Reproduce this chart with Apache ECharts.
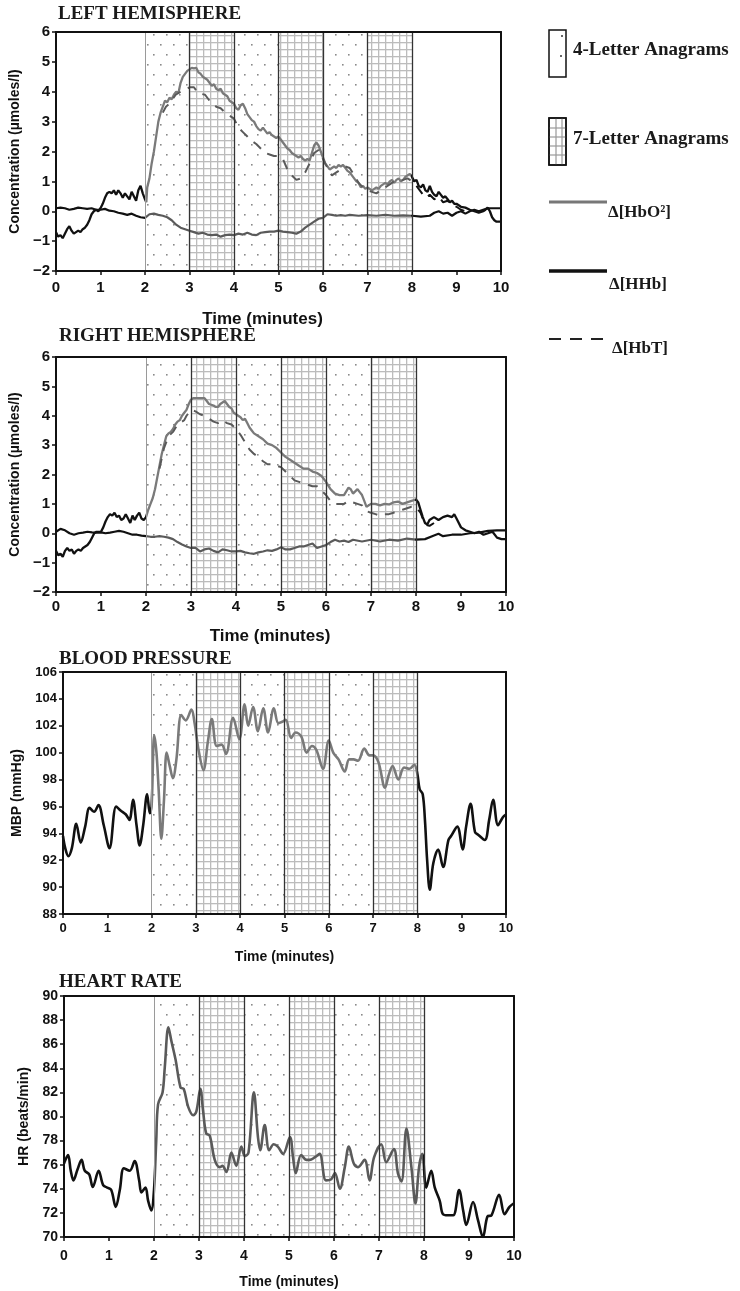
<!DOCTYPE html>
<html><head><meta charset="utf-8">
<script src="https://cdn.jsdelivr.net/npm/echarts@6/dist/echarts.min.js"></script>
<style>html,body{margin:0;padding:0;background:#fff}#c{width:740px;height:1291px}</style>
</head><body><div id="c"></div>
<script>
// ---------------- DATA ----------------
const panelTitles = ['LEFT HEMISPHERE', 'RIGHT HEMISPHERE', 'BLOOD PRESSURE', 'HEART RATE'];
const yAxisNames = ['Concentration (µmoles/l)', 'Concentration (µmoles/l)', 'MBP (mmHg)', 'HR (beats/min)'];
const xAxisName = 'Time (minutes)';
const yRanges = [[-2, 6, 1], [-2, 6, 1], [88, 106, 2], [70, 90, 2]];
const xRange = [0, 10, 1];
const fourLetterBands = [[2, 3], [4, 5], [6, 7]];
const sevenLetterBands = [[3, 4], [5, 6], [7, 8]];
const bandEdges = [2, 3, 4, 5, 6, 7, 8];
const legendLabels = ['4-Letter Anagrams', '7-Letter Anagrams', 'Δ[HbO²]', 'Δ[HHb]', 'Δ[HbT]'];

const lhHbO2 = [[0,-0.7],[0.05,-0.85],[0.1,-0.8],[0.15,-0.9],[0.2,-0.75],[0.25,-0.6],[0.3,-0.5],[0.35,-0.65],[0.4,-0.75],[0.45,-0.7],[0.5,-0.65],[0.55,-0.7],[0.6,-0.6],[0.65,-0.55],[0.7,-0.45],[0.75,-0.3],[0.8,-0.1],[0.85,0.0],[0.9,0.05],[0.95,0.0],[1.0,0.1],[1.05,0.25],[1.1,0.45],[1.15,0.6],[1.2,0.65],[1.25,0.6],[1.3,0.7],[1.35,0.55],[1.4,0.7],[1.45,0.6],[1.5,0.45],[1.55,0.6],[1.6,0.5],[1.65,0.4],[1.7,0.65],[1.75,0.5],[1.8,0.35],[1.85,0.7],[1.9,0.85],[1.95,0.6],[2.0,0.4],[2.03,0.3],[2.05,0.8],[2.1,1.1],[2.15,1.6],[2.2,2.0],[2.25,2.5],[2.3,3.0],[2.35,3.3],[2.4,3.5],[2.45,3.7],[2.5,3.65],[2.55,3.8],[2.6,3.75],[2.65,3.9],[2.7,4.0],[2.75,3.95],[2.8,4.3],[2.85,4.5],[2.9,4.6],[2.95,4.7],[3.0,4.75],[3.05,4.8],[3.1,4.78],[3.15,4.8],[3.2,4.65],[3.25,4.6],[3.3,4.5],[3.35,4.45],[3.4,4.4],[3.45,4.3],[3.5,4.2],[3.55,4.25],[3.6,4.1],[3.65,4.05],[3.7,4.1],[3.75,3.95],[3.8,3.9],[3.85,3.85],[3.9,3.7],[3.95,3.65],[4.0,3.6],[4.05,3.45],[4.1,3.4],[4.15,3.55],[4.2,3.6],[4.25,3.45],[4.3,3.25],[4.35,3.15],[4.4,3.05],[4.45,3.0],[4.5,2.85],[4.55,2.75],[4.6,2.7],[4.65,2.8],[4.7,2.7],[4.75,2.6],[4.8,2.65],[4.85,2.55],[4.9,2.5],[4.95,2.45],[5.0,2.5],[5.05,2.4],[5.1,2.3],[5.15,2.2],[5.2,2.1],[5.25,2.05],[5.3,1.95],[5.35,1.9],[5.4,1.85],[5.45,1.8],[5.5,1.85],[5.55,1.75],[5.6,1.7],[5.65,1.75],[5.7,1.7],[5.75,1.95],[5.8,2.2],[5.85,2.3],[5.9,2.2],[5.95,2.0],[6.0,1.8],[6.05,1.6],[6.1,1.5],[6.15,1.4],[6.2,1.45],[6.25,1.5],[6.3,1.45],[6.35,1.55],[6.4,1.5],[6.45,1.55],[6.5,1.45],[6.55,1.35],[6.6,1.3],[6.65,1.2],[6.7,1.1],[6.75,1.0],[6.8,0.95],[6.85,0.8],[6.9,0.85],[6.95,0.75],[7.0,0.8],[7.05,0.75],[7.1,0.7],[7.15,0.75],[7.2,0.8],[7.25,0.75],[7.3,0.85],[7.35,0.9],[7.4,0.95],[7.45,0.9],[7.5,1.0],[7.55,1.05],[7.6,0.95],[7.65,1.05],[7.7,1.1],[7.75,1.0],[7.8,1.05],[7.85,1.15],[7.9,1.2],[7.95,1.25],[8.0,1.15],[8.05,1.0],[8.1,1.05],[8.15,0.85],[8.2,0.8],[8.25,0.9],[8.3,0.7],[8.35,0.65],[8.4,0.85],[8.45,0.65],[8.5,0.55],[8.55,0.5],[8.6,0.65],[8.65,0.55],[8.7,0.45],[8.75,0.5],[8.8,0.4],[8.85,0.3],[8.9,0.35],[8.95,0.25],[9.0,0.25],[9.1,0.15],[9.2,0.12],[9.3,0.05],[9.4,0.0],[9.5,-0.05],[9.6,0.0],[9.65,0.05],[9.7,0.12],[9.75,0.0],[9.8,-0.2],[9.85,-0.3],[9.9,-0.35],[10,-0.35]];
const lhHHb = [[0,0.1],[0.1,0.12],[0.2,0.1],[0.3,0.05],[0.4,0.08],[0.5,0.12],[0.6,0.1],[0.7,0.08],[0.8,0.1],[0.9,0.05],[1.0,0.05],[1.1,0.08],[1.2,0.02],[1.3,0.0],[1.4,-0.05],[1.5,-0.08],[1.6,-0.12],[1.7,-0.08],[1.8,-0.15],[1.9,-0.2],[2.0,-0.22],[2.1,-0.1],[2.2,-0.08],[2.3,-0.12],[2.4,-0.15],[2.5,-0.2],[2.6,-0.3],[2.7,-0.45],[2.8,-0.55],[2.9,-0.6],[3.0,-0.65],[3.1,-0.7],[3.2,-0.75],[3.3,-0.72],[3.4,-0.78],[3.5,-0.8],[3.6,-0.78],[3.7,-0.85],[3.8,-0.8],[3.9,-0.78],[4.0,-0.8],[4.1,-0.75],[4.2,-0.78],[4.3,-0.72],[4.4,-0.78],[4.5,-0.8],[4.6,-0.72],[4.7,-0.7],[4.8,-0.68],[4.9,-0.68],[5.0,-0.65],[5.1,-0.68],[5.2,-0.7],[5.3,-0.72],[5.4,-0.75],[5.5,-0.68],[5.6,-0.55],[5.7,-0.45],[5.8,-0.35],[5.9,-0.25],[6.0,-0.22],[6.1,-0.1],[6.2,-0.12],[6.3,-0.15],[6.4,-0.13],[6.5,-0.15],[6.6,-0.12],[6.8,-0.15],[7.0,-0.13],[7.2,-0.15],[7.4,-0.12],[7.6,-0.15],[7.8,-0.14],[8.0,-0.15],[8.2,-0.18],[8.4,-0.15],[8.5,-0.05],[8.6,0.0],[8.7,-0.08],[8.8,-0.05],[8.9,-0.15],[9.0,-0.05],[9.1,0.0],[9.2,-0.08],[9.3,0.0],[9.4,0.05],[9.5,0.0],[9.6,0.05],[9.7,0.1],[9.8,0.1],[10,0.1]];
const lhHbT = [[2.4,3.3],[2.47,3.5],[2.55,3.6],[2.69,3.9],[2.8,4.0],[2.9,4.05],[3.0,4.15],[3.1,4.15],[3.2,3.95],[3.35,3.9],[3.45,3.7],[3.6,3.5],[3.7,3.45],[3.8,3.3],[3.9,3.2],[4.0,3.1],[4.1,2.8],[4.2,2.65],[4.3,2.5],[4.4,2.35],[4.5,2.25],[4.6,2.1],[4.7,1.95],[4.8,1.9],[4.9,1.85],[5.0,1.85],[5.1,1.75],[5.2,1.4],[5.3,1.2],[5.4,1.05],[5.5,1.1],[5.6,1.3],[5.7,1.6],[5.8,1.95],[5.9,2.05],[6.0,1.75],[6.1,1.45],[6.2,1.2],[6.3,1.3],[6.4,1.4],[6.5,1.5],[6.6,1.45],[6.7,1.2],[6.8,0.95],[6.9,0.8],[7.0,0.7],[7.1,0.65],[7.2,0.6],[7.3,0.7],[7.4,0.8],[7.5,0.9],[7.6,1.0],[7.7,1.0],[7.8,1.05],[7.9,1.1],[8.0,1.0],[8.1,0.85],[8.2,0.65],[8.3,0.45],[8.4,0.55],[8.5,0.4],[8.6,0.5],[8.7,0.3],[8.8,0.35],[8.9,0.2],[9.0,0.15],[9.1,0.05],[9.2,0.0],[9.3,0.0]];

const rhHbO2 = [[0,-0.6],[0.05,-0.75],[0.1,-0.7],[0.15,-0.8],[0.2,-0.6],[0.25,-0.5],[0.3,-0.6],[0.35,-0.55],[0.4,-0.7],[0.45,-0.6],[0.5,-0.55],[0.55,-0.6],[0.6,-0.5],[0.7,-0.4],[0.75,-0.3],[0.8,-0.15],[0.85,0.0],[0.9,0.05],[1.0,0.05],[1.05,0.2],[1.1,0.4],[1.15,0.55],[1.2,0.65],[1.25,0.6],[1.3,0.7],[1.35,0.55],[1.4,0.6],[1.45,0.45],[1.5,0.5],[1.55,0.65],[1.6,0.5],[1.65,0.35],[1.7,0.6],[1.75,0.45],[1.8,0.6],[1.85,0.7],[1.9,0.5],[1.95,0.45],[2.0,0.55],[2.05,0.8],[2.1,1.0],[2.15,1.2],[2.2,1.5],[2.25,1.9],[2.3,2.3],[2.35,2.7],[2.4,3.0],[2.45,3.3],[2.5,3.4],[2.55,3.45],[2.6,3.55],[2.65,3.7],[2.7,3.8],[2.75,3.85],[2.8,4.0],[2.85,4.1],[2.9,4.2],[2.95,4.4],[3.0,4.55],[3.05,4.6],[3.1,4.6],[3.2,4.6],[3.3,4.6],[3.35,4.5],[3.4,4.4],[3.5,4.35],[3.55,4.3],[3.6,4.3],[3.65,4.4],[3.7,4.45],[3.75,4.5],[3.8,4.4],[3.85,4.3],[3.9,4.25],[3.95,4.1],[4.0,4.05],[4.05,4.0],[4.1,3.95],[4.15,3.85],[4.2,3.9],[4.25,3.75],[4.3,3.6],[4.35,3.5],[4.4,3.4],[4.5,3.3],[4.6,3.2],[4.7,3.05],[4.8,3.0],[4.9,2.9],[5.0,2.75],[5.1,2.6],[5.2,2.5],[5.3,2.4],[5.4,2.3],[5.5,2.2],[5.6,2.2],[5.7,2.1],[5.8,2.05],[5.9,1.95],[6.0,1.75],[6.1,1.5],[6.2,1.35],[6.3,1.3],[6.4,1.3],[6.5,1.55],[6.55,1.5],[6.6,1.35],[6.7,1.5],[6.75,1.4],[6.8,1.3],[6.85,1.1],[6.9,0.9],[7.0,1.0],[7.1,1.0],[7.2,0.95],[7.3,1.0],[7.4,0.98],[7.5,1.05],[7.6,1.08],[7.7,1.0],[7.8,1.05],[7.9,1.1],[8.0,1.15],[8.05,1.05],[8.1,0.8],[8.15,0.55],[8.2,0.35],[8.25,0.3],[8.3,0.45],[8.4,0.55],[8.5,0.45],[8.6,0.55],[8.7,0.6],[8.8,0.55],[8.85,0.65],[8.9,0.5],[9.0,0.2],[9.1,0.1],[9.2,0.05],[9.3,0.0],[9.4,0.05],[9.5,-0.05],[9.6,0.0],[9.7,0.05],[9.8,-0.15],[9.9,-0.2],[10,-0.2]];
const rhHHb = [[0,0.05],[0.1,0.15],[0.2,0.1],[0.3,0.0],[0.4,-0.05],[0.5,0.0],[0.6,0.02],[0.7,0.05],[0.8,0.03],[0.9,0.02],[1.0,0.03],[1.1,0.0],[1.2,0.02],[1.3,0.05],[1.4,0.08],[1.5,0.05],[1.6,0.0],[1.7,-0.05],[1.8,-0.05],[1.9,-0.08],[2.0,-0.1],[2.1,-0.12],[2.2,-0.12],[2.3,-0.1],[2.4,-0.12],[2.5,-0.15],[2.6,-0.2],[2.7,-0.3],[2.8,-0.38],[2.9,-0.45],[3.0,-0.5],[3.1,-0.5],[3.2,-0.62],[3.3,-0.55],[3.4,-0.52],[3.5,-0.6],[3.6,-0.65],[3.7,-0.55],[3.8,-0.58],[3.9,-0.62],[4.0,-0.62],[4.1,-0.6],[4.2,-0.65],[4.3,-0.68],[4.4,-0.7],[4.5,-0.65],[4.6,-0.62],[4.7,-0.58],[4.8,-0.6],[4.9,-0.55],[5.0,-0.48],[5.1,-0.55],[5.2,-0.55],[5.3,-0.5],[5.4,-0.45],[5.5,-0.45],[5.6,-0.4],[5.7,-0.35],[5.8,-0.5],[5.9,-0.45],[6.0,-0.4],[6.1,-0.3],[6.2,-0.22],[6.3,-0.28],[6.4,-0.25],[6.5,-0.3],[6.6,-0.22],[6.8,-0.28],[7.0,-0.22],[7.2,-0.28],[7.4,-0.22],[7.6,-0.25],[7.8,-0.18],[8.0,-0.22],[8.2,-0.2],[8.4,-0.08],[8.5,-0.02],[8.6,-0.1],[8.8,-0.05],[9.0,-0.05],[9.2,0.0],[9.4,0.02],[9.6,0.08],[9.8,0.1],[10,0.1]];
const rhHbT = [[2.3,2.2],[2.4,2.9],[2.5,3.3],[2.6,3.45],[2.7,3.7],[2.8,3.8],[2.85,3.85],[2.9,4.0],[3.0,4.2],[3.1,4.15],[3.2,4.05],[3.3,4.0],[3.4,3.9],[3.5,3.8],[3.6,3.75],[3.7,3.85],[3.8,3.75],[3.9,3.7],[4.0,3.55],[4.1,3.35],[4.2,3.1],[4.3,2.85],[4.4,2.7],[4.5,2.6],[4.6,2.45],[4.7,2.35],[4.8,2.35],[4.9,2.3],[5.0,2.25],[5.1,2.1],[5.2,1.95],[5.3,1.8],[5.4,1.75],[5.5,1.7],[5.6,1.65],[5.7,1.6],[5.8,1.6],[5.9,1.45],[6.0,1.3],[6.1,1.1],[6.2,1.0],[6.3,1.0],[6.4,1.0],[6.5,1.1],[6.6,1.05],[6.7,1.0],[6.8,0.95],[6.9,0.75],[7.0,0.7],[7.1,0.65],[7.2,0.6],[7.3,0.65],[7.4,0.65],[7.5,0.7],[7.6,0.75],[7.7,0.8],[7.8,0.85],[7.9,0.9],[8.0,0.9],[8.1,0.7],[8.2,0.3],[8.3,0.25],[8.4,0.35]];

const bpMBP = [[0,93.8],[0.05,92.9],[0.12,92.3],[0.2,92.9],[0.3,94.7],[0.4,93.3],[0.5,94.5],[0.6,95.9],[0.7,95.6],[0.8,96.1],[0.92,94.6],[1.05,92.9],[1.2,96.0],[1.3,95.7],[1.42,95.4],[1.5,95.0],[1.58,96.5],[1.66,94.6],[1.73,93.1],[1.81,94.6],[1.9,96.9],[1.96,95.5],[2.0,96.0],[2.06,101.3],[2.11,100.0],[2.16,97.2],[2.22,93.6],[2.28,96.5],[2.34,100.0],[2.41,99.0],[2.48,98.1],[2.56,99.5],[2.67,102.8],[2.77,102.4],[2.9,103.2],[2.97,102.2],[3.06,100.2],[3.17,98.7],[3.27,100.8],[3.36,102.5],[3.47,100.5],[3.58,100.6],[3.68,99.9],[3.84,102.6],[3.98,101.0],[4.1,103.6],[4.18,102.0],[4.29,103.4],[4.4,101.6],[4.52,103.3],[4.63,101.5],[4.76,103.3],[4.86,102.2],[4.95,102.3],[5.03,102.45],[5.15,101.1],[5.25,101.5],[5.38,101.2],[5.5,100.0],[5.62,100.5],[5.72,100.2],[5.87,98.8],[6.0,100.9],[6.1,100.0],[6.22,99.5],[6.36,98.6],[6.46,99.5],[6.56,99.5],[6.66,99.4],[6.8,100.3],[6.92,99.8],[7.0,99.8],[7.12,99.3],[7.27,97.4],[7.35,98.3],[7.44,99.0],[7.57,98.0],[7.7,98.9],[7.82,98.8],[7.93,99.1],[8.0,98.4],[8.05,97.3],[8.12,96.9],[8.17,95.0],[8.22,92.0],[8.28,89.8],[8.36,91.8],[8.47,92.8],[8.58,91.5],[8.7,93.5],[8.76,93.8],[8.9,94.5],[9.02,92.8],[9.1,94.5],[9.2,96.2],[9.3,94.1],[9.37,93.9],[9.52,93.5],[9.62,95.0],[9.71,96.5],[9.82,94.6],[9.93,95.2],[10,95.4]];
const hrRate = [[0,76.1],[0.09,76.8],[0.15,75.5],[0.21,74.7],[0.3,75.6],[0.39,76.4],[0.46,75.5],[0.56,75.2],[0.64,74.15],[0.77,75.5],[0.87,74.3],[0.96,74.1],[1.05,73.9],[1.15,72.5],[1.24,73.9],[1.33,75.7],[1.46,75.5],[1.57,76.3],[1.67,74.7],[1.72,73.7],[1.81,74.1],[1.87,73.0],[1.94,72.2],[2.0,73.9],[2.05,78.0],[2.09,81.0],[2.19,82.0],[2.24,84.1],[2.32,87.4],[2.39,86.2],[2.48,84.7],[2.59,82.4],[2.66,82.3],[2.76,80.8],[2.87,80.1],[2.94,80.4],[3.03,82.3],[3.09,80.5],[3.16,78.6],[3.24,78.4],[3.35,76.4],[3.46,75.8],[3.52,75.9],[3.61,75.4],[3.72,77.0],[3.83,75.9],[3.94,77.5],[4.02,76.7],[4.1,77.0],[4.22,82.0],[4.31,78.3],[4.36,77.2],[4.46,79.3],[4.56,77.2],[4.66,77.7],[4.75,77.5],[4.87,76.9],[5.02,78.3],[5.09,76.6],[5.15,75.3],[5.27,76.8],[5.39,76.4],[5.46,76.4],[5.57,76.6],[5.68,76.9],[5.82,74.7],[5.94,74.8],[6.02,75.3],[6.13,74.0],[6.24,75.8],[6.33,77.5],[6.44,76.1],[6.53,75.8],[6.68,76.4],[6.79,74.7],[6.89,76.6],[7.05,77.7],[7.16,76.2],[7.33,77.3],[7.42,75.3],[7.5,74.6],[7.61,79.0],[7.72,75.8],[7.81,72.8],[7.89,75.8],[7.96,76.9],[8.05,74.1],[8.16,75.5],[8.24,74.1],[8.35,73.0],[8.42,71.9],[8.53,71.8],[8.65,71.8],[8.78,73.9],[8.87,72.2],[8.94,71.0],[9.09,72.9],[9.2,71.4],[9.31,70.0],[9.41,71.7],[9.5,71.8],[9.67,73.5],[9.79,71.9],[9.9,72.5],[10,72.8]];

// ---------------- RENDER ----------------
const SANS = '"Liberation Sans", Arial, sans-serif';
const SERIF = '"Liberation Serif", "Times New Roman", serif';
const INK = '#111';

function dotCanvas() {
  const c = document.createElement('canvas'); c.width = 26; c.height = 20;
  const g = c.getContext('2d');
  g.fillStyle = '#fff'; g.fillRect(0, 0, 26, 20);
  g.fillStyle = '#8a8a8a';
  [[4, 4], [17, 4], [10, 14], [23, 14]].forEach(p => g.fillRect(p[0], p[1], 1.6, 1.6));
  return c;
}
function gridCanvas() {
  const c = document.createElement('canvas'); c.width = 7; c.height = 7;
  const g = c.getContext('2d');
  g.fillStyle = '#fff'; g.fillRect(0, 0, 7, 7);
  g.fillStyle = '#bcbcbc';
  g.fillRect(0, 0, 7, 1.3); g.fillRect(0, 0, 1.3, 7);
  return c;
}
const dotPat = { image: dotCanvas(), repeat: 'repeat' };
const gridPat = { image: gridCanvas(), repeat: 'repeat' };

const layout = [
  { grid: { left: 48, top: 32, width: 453, height: 239 }, tick: 15, xName: 17, yName: 14, xGap: 40, yGap: 22, lblMargin: 9, xPad: 32, title: { x: 58, y: 14 } },
  { grid: { left: 53, top: 357, width: 453, height: 235 }, tick: 15, xName: 17, yName: 14, xGap: 36, yGap: 26, lblMargin: 7, xPad: 22, title: { x: 59, y: 336 } },
  { grid: { left: 63, top: 672, width: 443, height: 242 }, tick: 13, xName: 14, yName: 14, xGap: 36, yGap: 31, lblMargin: 8, xPad: 0, title: { x: 59, y: 659 } },
  { grid: { left: 64, top: 996, width: 450, height: 241 }, tick: 14, xName: 14, yName: 14, xGap: 38, yGap: 30, lblMargin: 12, xPad: 0, title: { x: 59, y: 982 } }
];

const grids = [], xAxes = [], yAxes = [], series = [], graphics = [];
const lightSeries = [], darkSeries = [];

layout.forEach((L, i) => {
  grids.push(Object.assign({ containLabel: false }, L.grid));
  const yr = yRanges[i];
  const axisLine = { show: true, onZero: false, lineStyle: { color: INK, width: 2 } };
  xAxes.push({
    gridIndex: i, type: 'value', min: xRange[0], max: xRange[1], interval: xRange[2], z: 10, position: 'bottom',
    name: xAxisName, nameLocation: 'middle', nameGap: L.xGap,
    nameTextStyle: { fontFamily: SANS, fontWeight: 'bold', fontSize: L.xName, color: INK, padding: [0, L.xPad, 0, 0] },
    axisLine, axisTick: { show: true, inside: false, length: 4, lineStyle: { color: INK, width: 1.5 } },
    axisLabel: { fontFamily: SANS, fontWeight: 'bold', fontSize: L.tick, color: INK, margin: L.lblMargin },
    splitLine: { show: false }
  });
  xAxes.push({
    gridIndex: i, type: 'value', min: xRange[0], max: xRange[1], position: 'top', z: 10,
    axisLine, axisTick: { show: false }, axisLabel: { show: false }, splitLine: { show: false }
  });
  yAxes.push({
    gridIndex: i, type: 'value', min: yr[0], max: yr[1], interval: yr[2], z: 10, position: 'left',
    name: yAxisNames[i], nameLocation: 'middle', nameGap: L.yGap,
    nameTextStyle: { fontFamily: SANS, fontWeight: 'bold', fontSize: L.yName, color: INK },
    axisLine, axisTick: { show: true, length: 4, lineStyle: { color: INK, width: 1.5 } },
    axisLabel: { fontFamily: SANS, fontWeight: 'bold', fontSize: L.tick, color: INK, margin: 6,
      formatter: v => String(v).replace('-', '\u2212') },
    splitLine: { show: false }
  });
  yAxes.push({
    gridIndex: i, type: 'value', min: yr[0], max: yr[1], position: 'right', z: 10,
    axisLine, axisTick: { show: false }, axisLabel: { show: false }, splitLine: { show: false }
  });
  const xi = 2 * i, yi = 2 * i;
  series.push({
    type: 'line', xAxisIndex: xi, yAxisIndex: yi, data: [], z: 1, silent: true,
    markArea: {
      silent: true,
      data: fourLetterBands.map(b => [{ xAxis: b[0], itemStyle: { color: dotPat } }, { xAxis: b[1] }])
        .concat(sevenLetterBands.map(b => [{ xAxis: b[0], itemStyle: { color: gridPat } }, { xAxis: b[1] }]))
    },
    markLine: {
      silent: true, symbol: ['none', 'none'], label: { show: false },
      data: bandEdges.map((e, k) => ({ xAxis: e, lineStyle: { type: 'solid', color: k === 0 ? '#9a9a9a' : '#333', width: k === 0 ? 1 : 1.3 } }))
    }
  });
  graphics.push({ type: 'text', x: L.title.x, y: L.title.y, style: { text: panelTitles[i], font: 'bold 19px ' + SERIF, fill: '#1a1a1a', verticalAlign: 'middle' } });
});

function addLine(i, data, opts) {
  const idx = series.length;
  series.push(Object.assign({
    type: 'line', xAxisIndex: 2 * i, yAxisIndex: 2 * i, data, showSymbol: false, symbol: 'none', z: 3,
    silent: true, lineStyle: { width: 2 }
  }, opts));
  return idx;
}
lightSeries.push(addLine(0, lhHbO2, { lineStyle: { width: 2.3 } }));
darkSeries.push(addLine(0, lhHHb, { lineStyle: { width: 2.2 } }));
darkSeries.push(addLine(0, lhHbT, { lineStyle: { width: 2, type: [10, 8] } }));
lightSeries.push(addLine(1, rhHbO2, { lineStyle: { width: 2.3 } }));
darkSeries.push(addLine(1, rhHHb, { lineStyle: { width: 2.2 } }));
darkSeries.push(addLine(1, rhHbT, { lineStyle: { width: 2, type: [10, 8] } }));
lightSeries.push(addLine(2, bpMBP, { smooth: 0.35, lineStyle: { width: 2.6 } }));
darkSeries.push(addLine(3, hrRate, { smooth: 0.35, lineStyle: { width: 2.6 } }));

// legend
const LX = 549;
graphics.push({ type: 'rect', shape: { x: LX, y: 30, width: 17, height: 47 }, style: { fill: '#fff', stroke: INK, lineWidth: 1.5 } });
graphics.push({ type: 'circle', shape: { cx: 562, cy: 36, r: 1 }, style: { fill: '#333' } });
graphics.push({ type: 'circle', shape: { cx: 561, cy: 56, r: 1 }, style: { fill: '#333' } });
graphics.push({ type: 'rect', shape: { x: LX, y: 118, width: 17, height: 47 }, style: { fill: '#fff', stroke: INK, lineWidth: 1.5 } });
[128, 137, 146, 155].forEach(y => graphics.push({ type: 'line', shape: { x1: LX, y1: y, x2: LX + 17, y2: y }, style: { stroke: '#999', lineWidth: 1.2 } }));
[556, 562].forEach(x => graphics.push({ type: 'line', shape: { x1: x, y1: 118, x2: x, y2: 165 }, style: { stroke: '#999', lineWidth: 1.2 } }));
graphics.push({ type: 'rect', shape: { x: LX, y: 118, width: 17, height: 47 }, style: { fill: 'none', stroke: INK, lineWidth: 1.5 } });
graphics.push({ type: 'text', x: 573, y: 50, style: { text: legendLabels[0], font: 'bold 19px ' + SERIF, fill: '#1a1a1a', verticalAlign: 'middle' } });
graphics.push({ type: 'text', x: 573, y: 139, style: { text: legendLabels[1], font: 'bold 19px ' + SERIF, fill: '#1a1a1a', verticalAlign: 'middle' } });
graphics.push({ type: 'line', shape: { x1: LX, y1: 202, x2: 607, y2: 202 }, style: { stroke: '#777', lineWidth: 3 } });
graphics.push({ type: 'text', x: 608, y: 213, style: { text: legendLabels[2], font: 'bold 17px ' + SERIF, fill: '#1a1a1a', verticalAlign: 'middle' } });
graphics.push({ type: 'line', shape: { x1: LX, y1: 271, x2: 607, y2: 271 }, style: { stroke: INK, lineWidth: 3.5 } });
graphics.push({ type: 'text', x: 609, y: 285, style: { text: legendLabels[3], font: 'bold 17px ' + SERIF, fill: '#1a1a1a', verticalAlign: 'middle' } });
graphics.push({ type: 'line', shape: { x1: LX, y1: 339, x2: 609, y2: 339 }, style: { stroke: '#222', lineWidth: 2, lineDash: [12, 9] } });
graphics.push({ type: 'text', x: 612, y: 349, style: { text: legendLabels[4], font: 'bold 17px ' + SERIF, fill: '#1a1a1a', verticalAlign: 'middle' } });

const pieces = (inside) => [{ lt: 2.02, color: '#111' }, { gte: 2.02, lte: 7.98, color: inside }, { gt: 7.98, color: '#111' }];

const chart = echarts.init(document.getElementById('c'), null, { renderer: 'canvas' });
chart.setOption({
  animation: false,
  backgroundColor: '#fff',
  grid: grids, xAxis: xAxes, yAxis: yAxes, series,
  visualMap: [
    { type: 'piecewise', show: false, dimension: 0, seriesIndex: lightSeries, pieces: pieces('#7a7a7a') },
    { type: 'piecewise', show: false, dimension: 0, seriesIndex: darkSeries, pieces: pieces('#5a5a5a') }
  ],
  graphic: { elements: graphics }
});
</script>
</body></html>
